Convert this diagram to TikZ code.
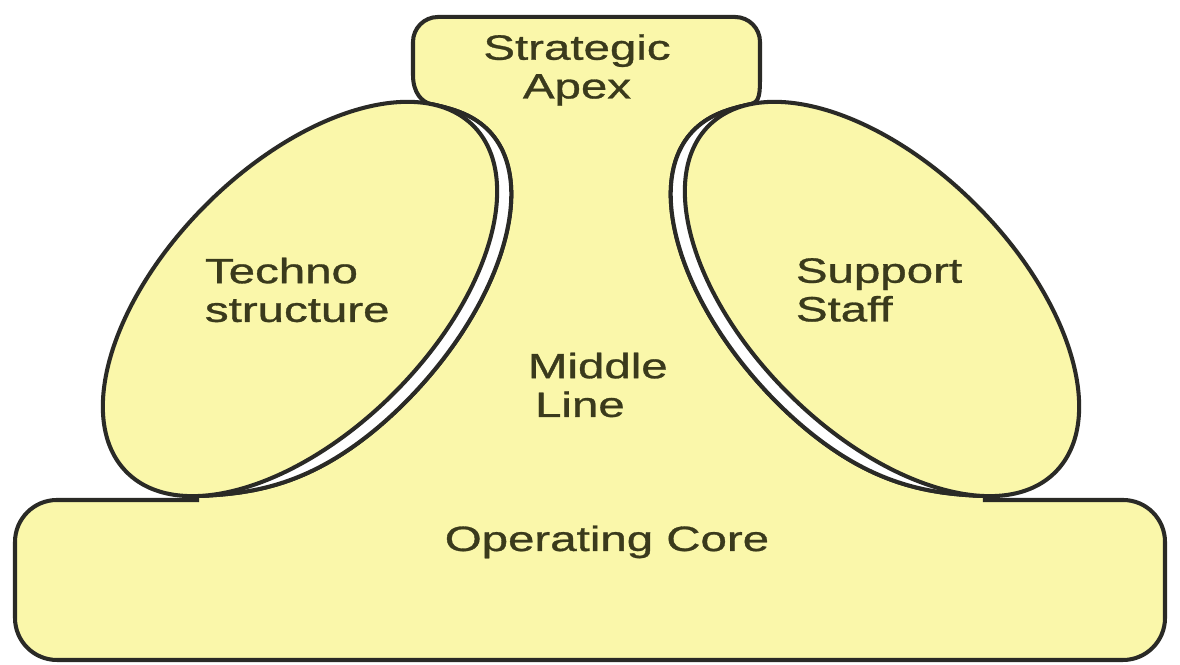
\documentclass[tikz,border=0pt]{standalone}
\usepackage{fontspec}
\setmainfont[FakeBold=0.8]{Liberation Sans}
\usepackage{tikz}
\definecolor{pale}{RGB}{250,247,170}
\definecolor{ink}{RGB}{42,42,38}
\definecolor{txt}{RGB}{58,58,28}
\tikzset{
  declare function={
    rN(\t)=sqrt(1.7689*cos(\t)*cos(\t)+6.0025*sin(\t)*sin(\t));
    rC(\t)=cos((20-(\t))*1.0588)*cos((20-(\t))*1.0588);
    rD(\t)=0.145*(1-rC(\t)*rC(\t)*rC(\t)*rC(\t));
    ex(\t)=(2.45+rD(\t)*1.33/rN(\t))*cos(\t);
    ey(\t)=(1.33+rD(\t)*2.45/rN(\t))*sin(\t);
    lx(\t)=3+0.7071*(ex(\t)-ey(\t));
    rx(\t)=8.82-0.7071*(ex(\t)-ey(\t));
    ly(\t)=3.66+0.7071*(ex(\t)+ey(\t));
  },
  edge/.style={draw=ink, line width=1.15pt},
  ring/.style={variable=\t, domain=-150:20, samples=60, smooth},
  lbl/.style={font=\fontsize{10}{11}\selectfont, text=txt, inner sep=0pt, xscale=1.35},
}

\begin{document}
\begin{tikzpicture}
    \fill[white] (0,0) rectangle (11.8,6.65);
    \draw[edge, fill=pale]
    (0.15,1.0) -- (0.15,1.23) arc[start angle=180, end angle=90, radius=0.42] --
    (1.97,1.65) -- plot[ring] ({lx(\t)},{ly(\t)})
    .. controls (4.22,5.63) and (4.13,5.72) .. (4.13,5.90) --
    (4.13,6.23) arc[start angle=180, end angle=90, radius=0.25] --
    (7.35,6.48) arc[start angle=90, end angle=0, radius=0.25] --
    (7.60,5.90) .. controls (7.60,5.72) and (7.60,5.63) .. (7.51,5.61) --
    plot[ring] ({rx(-130-(\t))},{ly(-130-(\t))}) -- (9.85,1.65) --
    (11.23,1.65) arc[start angle=90, end angle=0, radius=0.42] --
    (11.65,0.47) arc[start angle=0, end angle=-90, radius=0.42] --
    (0.57,0.05) arc[start angle=270, end angle=180, radius=0.42] -- cycle;
    \fill[white] plot[ring] ({lx(\t)},{ly(\t)}) -- cycle;
    \fill[white] plot[ring] ({rx(\t)},{ly(\t)}) -- cycle;
    \draw[edge] plot[ring] ({lx(\t)},{ly(\t)});
    \draw[edge] plot[ring] ({rx(\t)},{ly(\t)});
    \draw[edge, fill=pale, rotate around={45:(3,3.66)}] (3,3.66) ellipse[x radius=2.45, y radius=1.33];
    \draw[edge, fill=pale, rotate around={-45:(8.82,3.66)}] (8.82,3.66) ellipse[x radius=2.45, y radius=1.33];
    \node[lbl, align=center] (apex) at (5.77,5.95) {Strategic\\Apex};
    \node[lbl, align=left, anchor=west] (techno) at (2.04,3.75) {Techno\\structure};
    \node[lbl, align=left, anchor=west] (support) at (7.95,3.75) {Support\\Staff};
    \node[lbl, align=left, anchor=west] (middle) at (5.27,2.80) {Middle\\\hspace{1.5pt}Line};
    \node[lbl, anchor=base] (core) at (6.07,1.14) {Operating Core};
\end{tikzpicture}
\end{document}
